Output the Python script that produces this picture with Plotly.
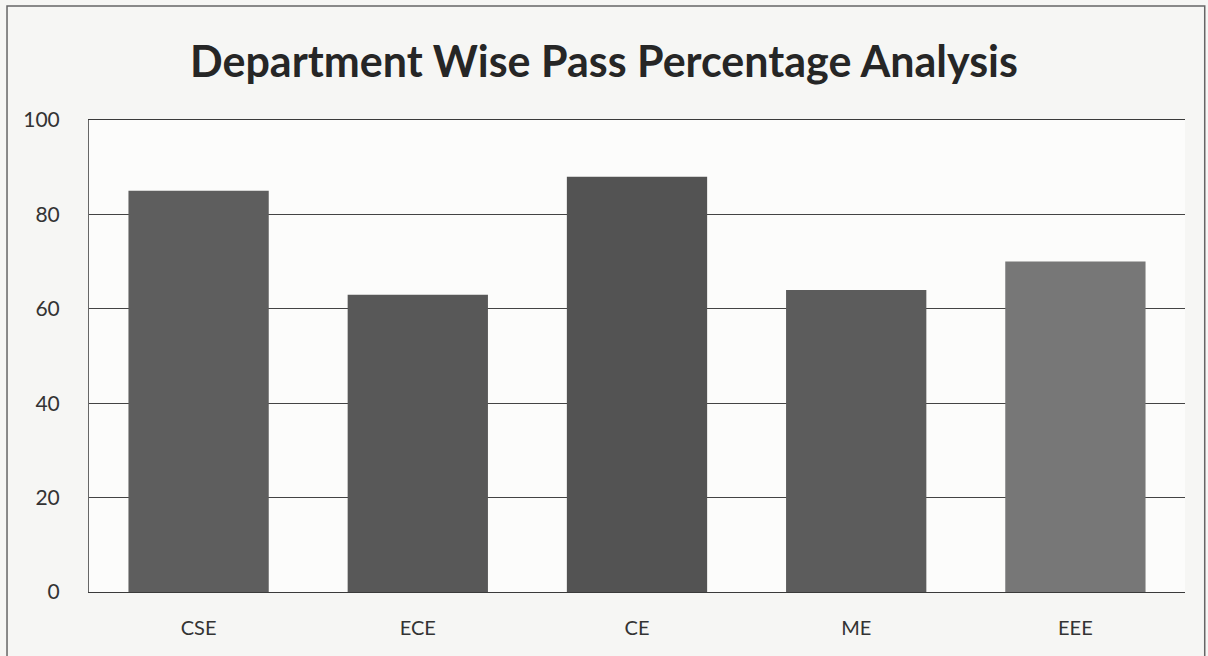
import plotly.graph_objects as go

# Department pass percentages
departments = ["CSE", "ECE", "CE", "ME", "EEE"]
pass_pct = [85, 63, 88, 64, 70]
bar_colors = ["#5e5e5e", "#585858", "#535353", "#5c5c5c", "#777777"]
y_ticks = [0, 20, 40, 60, 80, 100]

fig = go.Figure()

fig.add_trace(go.Bar(
    x=departments,
    y=pass_pct,
    marker={"color": bar_colors, "line": {"width": 0}},
    hovertemplate="%{x}: %{y}%<extra></extra>",
))

fig.update_layout(
    width=1208,
    height=656,
    margin={"l": 89, "r": 23, "t": 120, "b": 64},
    paper_bgcolor="#f6f6f4",
    plot_bgcolor="#fcfcfb",
    bargap=0.36,
    showlegend=False,
    font={"family": "Lato, 'Open Sans', sans-serif", "color": "#333333"},
    title={
        "text": "<b>Department Wise Pass Percentage Analysis</b>",
        "x": 0.5,
        "xanchor": "center",
        "y": 0.905,
        "yanchor": "middle",
        "font": {"size": 43, "color": "#262626"},
    },
    shapes=[{
        "type": "rect", "xref": "paper", "yref": "paper",
        "x0": -0.0748, "x1": 1.018, "y0": -0.2, "y1": 1.2415,
        "line": {"color": "#666666", "width": 1.5},
    }],
)

# mirror draws the gridline-like top border at 100
fig.update_xaxes(
    showgrid=False,
    showline=True,
    mirror=True,
    linecolor="#3a3a3a",
    linewidth=1.4,
    ticks="",
    tickfont={"size": 20, "color": "#333333"},
    ticklabelstandoff=18,
)

fig.update_yaxes(
    range=[0, 100],
    tickvals=y_ticks,
    showgrid=True,
    gridcolor="#444444",
    gridwidth=1.2,
    showline=True,
    linecolor="#666666",
    linewidth=1,
    zeroline=False,
    ticks="",
    tickfont={"size": 21, "color": "#333333"},
    ticklabelstandoff=24,
)

fig.write_html(
    "out.html",
    config={"displayModeBar": False},
    post_script="document.body.style.margin='0';",
)
